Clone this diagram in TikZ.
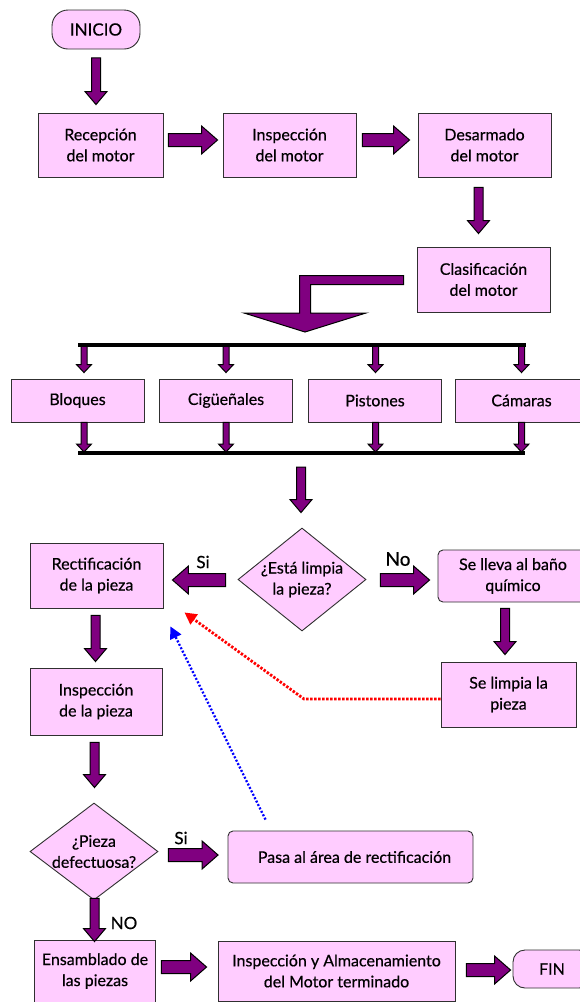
\documentclass[tikz,border=0pt]{standalone}
\usepackage{fontspec}
\setmainfont{Lato}[FakeBold=0.5]
\usetikzlibrary{shapes.geometric,calc,arrows.meta}

\definecolor{boxpink}{HTML}{FFCCFF}
\definecolor{arrowpurple}{HTML}{800080}
\definecolor{edgegray}{HTML}{303030}

\tikzset{
  txt/.style={font=\fontsize{16}{21}\selectfont},
  base/.style={txt, draw=edgegray, fill=boxpink, line width=0.9pt, align=center, inner sep=2pt},
  procbox/.style={base, rectangle, minimum width=133, minimum height=64},
  catbox/.style={base, rectangle, minimum width=133, minimum height=43},
  roundbox/.style={base, rectangle, rounded corners=5},
  terminal/.style={base, rectangle, rounded corners=16},
  decision/.style={base, diamond, minimum width=128, minimum height=103, inner sep=0},
  dtext/.style={txt, align=center, inner sep=0},
  blockarrow/.style={draw=black, fill=arrowpurple, line width=1pt, line join=miter},
  barline/.style={draw=black, line width=4pt},
  feedback/.style={line width=2.8pt, dash pattern=on 2.4pt off 1.6pt,
    -{Triangle[length=12pt,width=12pt]}},
  lbl/.style={font=\fontsize{17}{20}\selectfont, inner sep=0},
}

% vertical block arrow pointing down: start, end, shaft half width, head half width, head length
\newcommand\vblock[5]{%
  \draw[blockarrow] let \p1=(#1), \p2=(#2) in
    ({\x1-#3},\y1) -- ({\x1-#3},{\y2+#5}) -- ({\x1-#4},{\y2+#5}) -- (\x1,\y2)
    -- ({\x1+#4},{\y2+#5}) -- ({\x1+#3},{\y2+#5}) -- ({\x1+#3},\y1) -- cycle;}
% horizontal block arrow: start, end, shaft half width, head half width, signed head length
\newcommand\hblock[5]{%
  \draw[blockarrow] let \p1=(#1), \p2=(#2) in
    (\x1,{\y1+#3}) -- ({\x2-(#5)},{\y1+#3}) -- ({\x2-(#5)},{\y1+#4}) -- (\x2,\y1)
    -- ({\x2-(#5)},{\y1-#4}) -- ({\x2-(#5)},{\y1-#3}) -- (\x1,{\y1-#3}) -- cycle;}
\newcommand\arrdown[2]{\vblock{#1}{#2}{4.5pt}{11pt}{13pt}}
\newcommand\arrsmall[2]{\vblock{#1}{#2}{3pt}{7.5pt}{8pt}}
\newcommand\arrright[2]{\hblock{#1}{#2}{6.5pt}{14pt}{16pt}}
\newcommand\arrleft[2]{\hblock{#1}{#2}{6.5pt}{14pt}{-16pt}}

\begin{document}
\begin{tikzpicture}[x=1pt,y=-1pt]
\useasboundingbox (0,0) rectangle (580,1002);
\fill[white] (0,0) rectangle (580,1002);
\clip (0,0) rectangle (580,1002);

% ---- motor reception and disassembly
\node[terminal, minimum width=88, minimum height=39, font=\fontsize{17}{21}\selectfont] (ini) at (96,29.5) {INICIO};
\node[procbox, minimum width=125] (rec) at (100.5,145) {Recepción\\del motor};
\node[procbox] (insp) at (289.5,145) {Inspección\\del motor};
\node[procbox] (des) at (484.5,145) {Desarmado\\del motor};
\node[procbox, minimum height=65] (clas) at (483.5,279.5) {Clasificación\\del motor};

\arrdown{$(ini.south)+(0,8.5)$}{$(rec.north)+(0,-8)$}
\arrright{$(rec.east)+(5,-5)$}{$(insp.west)+(-5,0)$}
\arrright{$(insp.east)+(6,-5)$}{$(des.west)+(-8,0)$}
\arrdown{$(des.south)+(-6,10)$}{$(clas.north)+(0,-13)$}

% ---- split into part families
\coordinate (split) at (305,332);
\draw[blockarrow] let \p1=($(clas.west)+(-13,0.5)$), \p2=(split) in
  (\x1,{\y1+4.5pt}) -- ({\x2-5.5pt},{\y1+4.5pt}) -- ({\x2-5.5pt},{\y2+19pt})
  -- ({\x2-61pt},{\y2+19pt}) -- (\x2,\y2) -- ({\x2+61pt},{\y2+19pt})
  -- ({\x2+5.5pt},{\y2+19pt}) -- ({\x2+5.5pt},{\y1-4.5pt}) -- (\x1,{\y1-4.5pt}) -- cycle;

\node[catbox] (b1) at (77.5,400.5) {Bloques};
\node[catbox] (b2) at (226,400.5) {Cigüeñales};
\node[catbox] (b3) at (375,400.5) {Pistones};
\node[catbox] (b4) at (521.5,400.5) {Cámaras};

\coordinate (tl) at (78,345);  \coordinate (tr) at (526,345);
\coordinate (bl) at (78,453);  \coordinate (br) at (525,453);
\coordinate (t1) at (84,345);    \coordinate (u1) at (84,453);
\coordinate (t2) at (226,345);   \coordinate (u2) at (226,453);
\coordinate (t3) at (375.5,345); \coordinate (u3) at (375.5,453);
\coordinate (t4) at (521.5,345); \coordinate (u4) at (521.5,453);
\coordinate (bmid) at (301,453);

\foreach \i in {1,2,3,4}{
  \arrsmall{t\i}{$(b\i.north)+(0,-6)$}
  \arrsmall{b\i.south -| u\i}{$(u\i)+(0,-1)$}
}
\draw[barline] (tl) -- (tr);
\draw[barline] (bl) -- (br);

% ---- cleaning decision
\node[decision, label={[dtext]center:{¿Está limpia\\la pieza?}}] (d1) at (302,579.5) {};
\node[procbox, minimum height=65] (rect) at (96.5,575.5) {Rectificación\\de la pieza};
\node[roundbox, minimum width=150, minimum height=52] (bano) at (513,576) {Se lleva al baño\\químico};
\node[procbox, minimum width=132, minimum height=67] (ipz) at (96,701.5) {Inspección\\de la pieza};
\node[procbox, minimum width=135, minimum height=65] (limpia) at (508.5,694.5) {Se limpia la\\pieza};

\arrdown{$(bmid)+(0,14)$}{$(d1.north)+(0,-15)$}
\arrleft{$(d1.west)+(-12,0.5)$}{$(rect.east)+(9,0)$}
\arrright{$(d1.east)+(14,0.5)$}{$(bano.west)+(-8,0)$}
\arrdown{$(rect.south)+(-1,7)$}{$(ipz.north)+(0,-6)$}
\arrdown{$(bano.south)+(-8,6)$}{$(limpia.north)+(0,-7)$}

\node[lbl] (si1) at (203,562) {Si};
\node[lbl, font=\fontsize{19}{22}\selectfont] (no1) at (398,559) {No};

% ---- defect decision and assembly
\node[decision, minimum height=97, label={[dtext]center:{¿Pieza\\defectuosa?}}] (d2) at (94,851.5) {};
\node[roundbox, minimum width=245, minimum height=52] (pasa) at (350.5,857) {\hspace*{8pt}Pasa al área de rectificación};
\node[procbox, minimum width=121, minimum height=62] (ens) at (95,971) {Ensamblado de\\las piezas};
\node[procbox, minimum width=237, minimum height=60] (alm) at (336.5,971) {Inspección y Almacenamiento\\del Motor terminado};
\node[terminal, minimum width=78, minimum height=38, rounded corners=12] (fin) at (552,969) {FIN};

\arrdown{$(ipz.south)+(-1.5,7)$}{$(d2.north)+(0,-15)$}
\arrright{$(d2.east)+(10,3.5)$}{$(pasa.west)+(-9.5,0)$}
\arrdown{$(d2.south)+(0.5,-2)$}{$(ens.north)+(0,2)$}
\arrright{$(ens.east)+(5.5,-4)$}{$(alm.west)+(-11,0)$}
\arrright{$(alm.east)+(11,-1)$}{$(fin.west)+(-2,0)$}

\node[lbl] (si2) at (181,838) {Si};
\node[lbl] (no2) at (124,923) {NO};

% ---- return paths to rectification
\coordinate (rbend) at (304,699);
\draw[feedback, red] ($(limpia.west)+(0,4.5)$) -- (rbend) -- ($(rect.south east)+(21,4)$);
\draw[feedback, blue, line width=2.3pt, dash pattern=on 2pt off 1.8pt] ($(pasa.north)+(-85,-11)$) -- ($(rect.south east)+(7,18)$);
\end{tikzpicture}
\end{document}
